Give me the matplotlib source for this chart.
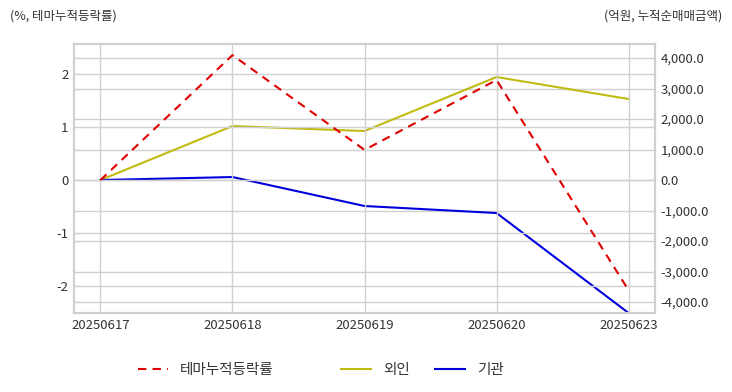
import matplotlib.pyplot as plt
from matplotlib.ticker import FuncFormatter

plt.rcParams['font.family'] = ['Noto Sans CJK KR', 'DejaVu Sans']
plt.rcParams['axes.unicode_minus'] = False

dates = ['20250617', '20250618', '20250619', '20250620', '20250623']
theme_rate = [0.0, 2.36, 0.57, 1.89, -2.08]
foreign = [0.0, 1770.0, 1607.0, 3377.0, 2656.0]
institution = [0.0, 98.0, -852.0, -1082.0, -4360.0]

series_names = ['테마누적등락률', '외인', '기관']
series_colors = ['#e00000', '#c0bb10', '#0000dd']
series_styles = [(0, (4, 3)), '-', '-']

grid_c = '#d0d0d0'
text_c = '#333333'

fig = plt.figure(figsize=(7.32, 3.92), dpi=100)
ax = fig.add_axes([74 / 732, 1 - 313 / 392, 581 / 732, 269 / 392])
ax2 = ax.twinx()

x = list(range(len(dates)))
ax.plot(x, theme_rate, color=series_colors[0], linestyle=series_styles[0], linewidth=1.5, zorder=5)
ax2.plot(x, foreign, color=series_colors[1], linewidth=1.5)
ax2.plot(x, institution, color=series_colors[2], linewidth=1.5)

ax.set_xlim(-0.2, 4.2)
ax.set_ylim(-2.51, 2.57)
ax2.set_ylim(-4360, 4460)
ax.set_xticks(x)
ax.set_xticklabels(dates)
ax.set_yticks([-2, -1, 0, 1, 2])
ax2.set_yticks([-4000, -3000, -2000, -1000, 0, 1000, 2000, 3000, 4000])
ax2.yaxis.set_major_formatter(FuncFormatter(lambda v, p: f'{v:,.1f}'))

ax.grid(True, color=grid_c, linewidth=1)
ax2.grid(True, axis='y', color=grid_c, linewidth=1)
ax.set_zorder(ax2.get_zorder() + 1)
ax.patch.set_visible(False)

for a in (ax, ax2):
    for s in a.spines.values():
        s.set_color(grid_c)
        s.set_linewidth(1.5)
    a.tick_params(length=0, labelsize=9.5, colors=text_c, pad=4)

fig.text(10 / 732, 1 - 16 / 392, '(%, 테마누적등락률)', fontsize=9, color=text_c, va='center')
fig.text(722 / 732, 1 - 16 / 392, '(억원, 누적순매매금액)', fontsize=9, color=text_c, va='center', ha='right')

# legend items placed one by one, like the original layout
legend_x = [138, 341, 435]
for name, col, ls, lx in zip(series_names, series_colors, series_styles, legend_x):
    h, = ax.plot([], [], color=col, linestyle=ls, linewidth=1.5)
    fig.legend([h], [name], loc='center left', bbox_to_anchor=(lx / 732, 1 - 370 / 392),
               frameon=False, fontsize=10.5, labelcolor=text_c, borderpad=0,
               borderaxespad=0, handlelength=2.06, handletextpad=0.82)

fig.savefig('out.png', dpi=100)
